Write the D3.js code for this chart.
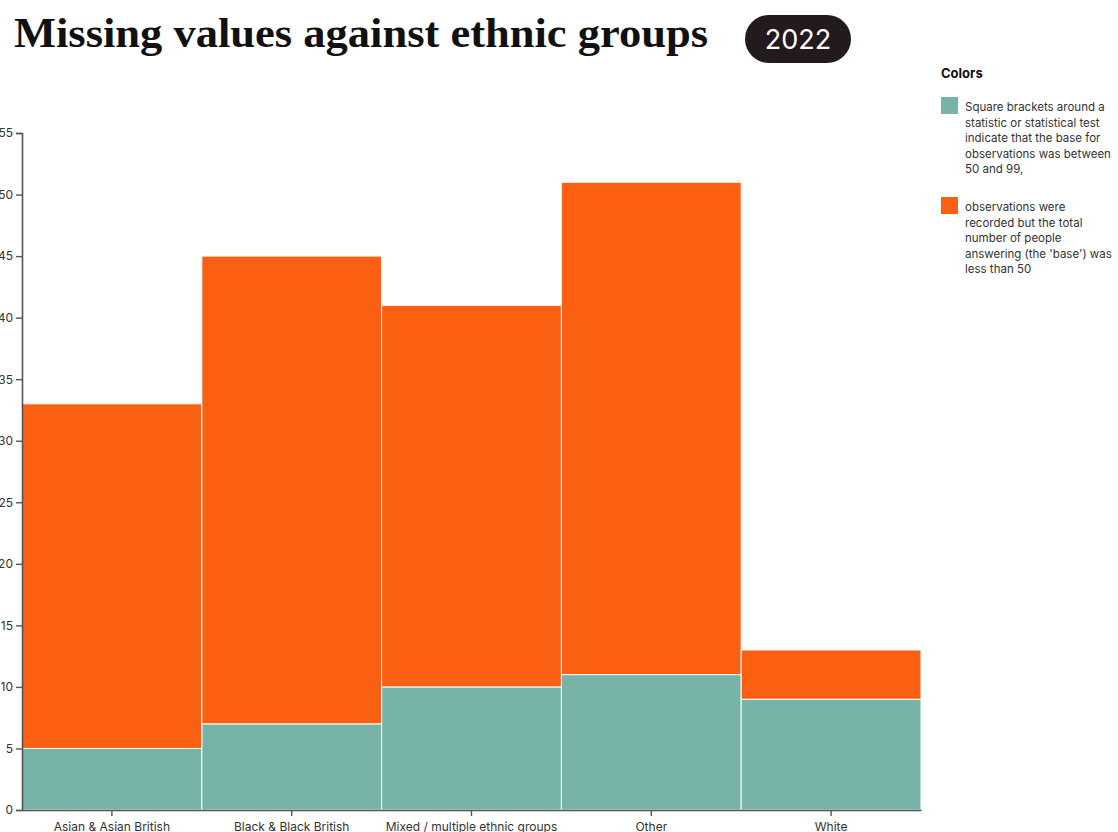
<!DOCTYPE html>
<html>
<head>
<meta charset="utf-8">
<script src="https://cdn.jsdelivr.net/npm/d3@7"></script>
<style>
  body { margin: 0; background: #fff; }
  svg { display: block; font-family: Inter, "Noto Sans", sans-serif; }
</style>
</head>
<body>
<script>
var groups = ['Asian & Asian British', 'Black & Black British', 'Mixed / multiple ethnic groups', 'Other', 'White'];
var bracketValues = [5, 7, 10, 11, 9];
var smallBaseValues = [28, 38, 31, 40, 4];
var yTicks = [0, 5, 10, 15, 20, 25, 30, 35, 40, 45, 50, 55];
var seriesKeys = ['bracket', 'smallBase'];
var seriesColors = ['#77b3a8', '#fa5f12'];
var legendLines = [
  ['Square brackets around a', 'statistic or statistical test', 'indicate that the base for', 'observations was between', '50 and 99,'],
  ['observations were', 'recorded but the total', 'number of people', "answering (the 'base') was", 'less than 50']
];

var width = 1118, height = 832;
var margin = {left: 22, right: 197, top: 133, bottom: 22};

var svg = d3.select('body').append('svg')
  .attr('width', width)
  .attr('height', height);

// title + year pill
svg.append('text')
  .attr('x', 14).attr('y', 47)
  .attr('textLength', 694).attr('lengthAdjust', 'spacingAndGlyphs')
  .style('font-family', '"Liberation Serif", "DejaVu Serif", serif')
  .style('font-weight', 'bold')
  .style('font-size', '42px')
  .style('fill', '#111')
  .text('Missing values against ethnic groups');

svg.append('rect')
  .attr('x', 745).attr('y', 15).attr('width', 106).attr('height', 48)
  .attr('rx', 24)
  .style('fill', '#231a1e');
svg.append('text')
  .attr('x', 798).attr('y', 49)
  .attr('text-anchor', 'middle')
  .style('font-size', '27px')
  .style('fill', '#fff')
  .text('2022');

var table = groups.map(function (g, i) {
  return {group: g, bracket: bracketValues[i], smallBase: smallBaseValues[i]};
});
var stacked = d3.stack().keys(seriesKeys)(table);

var x = d3.scaleBand()
  .domain(groups)
  .range([margin.left, width - margin.right])
  .padding(0);

var y = d3.scaleLinear()
  .domain([0, 55])
  .range([height - margin.bottom, margin.top]);

var color = d3.scaleOrdinal().domain(seriesKeys).range(seriesColors);

svg.append('g')
  .selectAll('g')
  .data(stacked)
  .join('g')
    .style('fill', function (d) { return color(d.key); })
  .selectAll('rect')
  .data(function (d) { return d; })
  .join('rect')
    .attr('x', function (d) { return x(d.data.group); })
    .attr('y', function (d) { return y(d[1]); })
    .attr('width', x.bandwidth())
    .attr('height', function (d) { return y(d[0]) - y(d[1]); })
    .style('stroke', '#fff')
    .style('stroke-width', 1);

var yAxis = svg.append('g')
  .attr('transform', 'translate(' + margin.left + ',0)')
  .call(d3.axisLeft(y).tickValues(yTicks));

var xAxis = svg.append('g')
  .attr('transform', 'translate(0,' + (height - margin.bottom) + ')')
  .call(d3.axisBottom(x).tickSizeOuter(0).tickPadding(6));

[yAxis, xAxis].forEach(function (ax) {
  ax.selectAll('.domain').style('stroke', '#555').style('stroke-width', 1.6);
  ax.selectAll('.tick line').style('stroke', '#555').style('stroke-width', 1.4);
  ax.selectAll('text')
    .style('font-family', 'Inter, "Noto Sans", sans-serif')
    .style('font-size', '12px')
    .style('fill', '#333');
});

// legend
var legend = svg.append('g').attr('transform', 'translate(941,0)');
legend.append('text')
  .attr('x', 0).attr('y', 78)
  .style('font-size', '13px')
  .style('font-weight', 'bold')
  .style('fill', '#111')
  .text('Colors');

var items = legend.selectAll('g.item')
  .data(seriesKeys)
  .join('g')
    .attr('class', 'item')
    .attr('transform', function (d, i) { return 'translate(0,' + (97 + i * 100) + ')'; });

items.append('rect')
  .attr('width', 17).attr('height', 17)
  .style('fill', function (d) { return color(d); });

items.append('text')
  .style('font-size', '11.5px')
  .style('fill', '#333')
  .selectAll('tspan')
  .data(function (d, i) { return legendLines[i]; })
  .join('tspan')
    .attr('x', 24)
    .attr('y', function (d, j) { return 14 + j * 15.5; })
    .text(function (d) { return d; });
</script>
</body>
</html>
